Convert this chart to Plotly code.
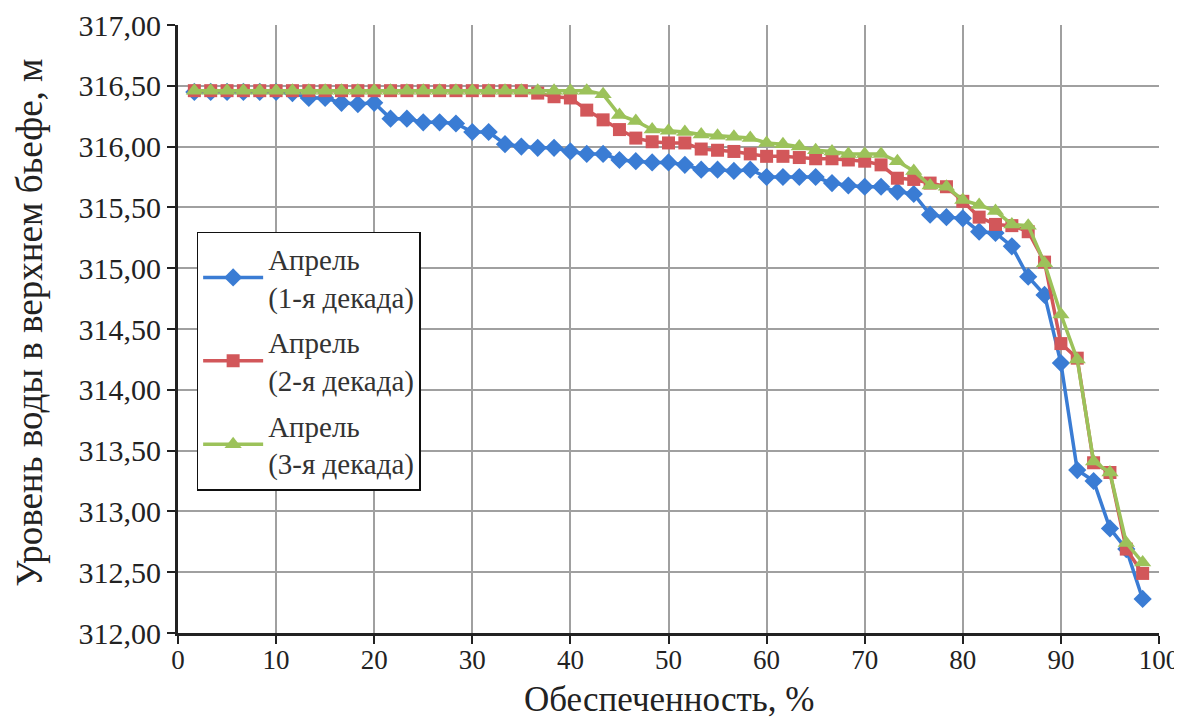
import plotly.graph_objects as go

# Provision (%) – Weibull plotting positions m/(n+1), n = 59
n_points = 59
provision = [round(m * 100 / (n_points + 1), 3) for m in range(1, n_points + 1)]

april_1 = [316.45, 316.45, 316.45, 316.45, 316.45, 316.45, 316.44, 316.40, 316.40, 316.36,
           316.35, 316.36, 316.23, 316.23, 316.20, 316.20, 316.19, 316.12, 316.12, 316.02,
           316.00, 315.99, 315.99, 315.96, 315.94, 315.94, 315.89, 315.88, 315.87, 315.87,
           315.85, 315.81, 315.81, 315.80, 315.81, 315.75, 315.75, 315.75, 315.75, 315.70,
           315.68, 315.67, 315.67, 315.63, 315.61, 315.44, 315.42, 315.41, 315.30, 315.29,
           315.18, 314.93, 314.78, 314.22, 313.34, 313.25, 312.86, 312.69, 312.28]

april_2 = [316.46, 316.46, 316.46, 316.46, 316.46, 316.46, 316.46, 316.46, 316.46, 316.46,
           316.46, 316.46, 316.46, 316.46, 316.46, 316.46, 316.46, 316.46, 316.46, 316.46,
           316.46, 316.44, 316.41, 316.40, 316.30, 316.22, 316.14, 316.07, 316.04, 316.03,
           316.03, 315.98, 315.97, 315.96, 315.94, 315.92, 315.92, 315.91, 315.90, 315.90,
           315.89, 315.88, 315.85, 315.74, 315.73, 315.70, 315.67, 315.55, 315.42, 315.36,
           315.35, 315.30, 315.05, 314.38, 314.26, 313.40, 313.32, 312.69, 312.49]

april_3 = [316.46, 316.46, 316.46, 316.46, 316.46, 316.46, 316.46, 316.46, 316.46, 316.46,
           316.46, 316.46, 316.46, 316.46, 316.46, 316.46, 316.46, 316.46, 316.46, 316.46,
           316.46, 316.46, 316.46, 316.46, 316.46, 316.43, 316.26, 316.21, 316.14, 316.13,
           316.12, 316.10, 316.09, 316.08, 316.07, 316.03, 316.02, 316.00, 315.97, 315.96,
           315.94, 315.94, 315.94, 315.88, 315.80, 315.68, 315.67, 315.56, 315.52, 315.47,
           315.36, 315.35, 315.04, 314.62, 314.25, 313.41, 313.32, 312.74, 312.58]

series_names = ["Апрель<br>(1-я декада)", "Апрель<br>(2-я декада)", "Апрель<br>(3-я декада)"]
colors = ["#3A7CD4", "#D2575A", "#9CC25A"]
symbols = ["diamond", "square", "triangle-up"]
sizes = [14, 13, 15]

x_ticks = list(range(0, 101, 10))
y_ticks = [312.0 + 0.5 * i for i in range(11)]

x_title = "Обеспеченность, %"
y_title = "Уровень воды в верхнем бьефе, м"

fig = go.Figure()
for i, ys in enumerate([april_1, april_2, april_3]):
    fig.add_trace(go.Scatter(
        x=provision, y=ys, mode="lines+markers", name=series_names[i],
        legendgroup=f"g{i}",
        line=dict(color=colors[i], width=3.5),
        marker=dict(symbol=symbols[i], size=sizes[i], color=colors[i],
                    line=dict(width=0)),
    ))

font_family = "Times New Roman, Liberation Serif, serif"
text_color = "#222222"
fig.update_layout(
    width=1174, height=710,
    margin=dict(l=170, r=23, t=17, b=85),
    paper_bgcolor="white", plot_bgcolor="white",
    separators=", ",
    font=dict(family=font_family, color=text_color, size=24),
    showlegend=True,
    legend=dict(
        x=0.019, y=0.66, xanchor="left", yanchor="top",
        bgcolor="white", bordercolor="#111111", borderwidth=1.5,
        font=dict(family=font_family, size=29, color="#333333"),
        tracegroupgap=5, itemwidth=60,
    ),
    xaxis=dict(
        range=[0, 100], tickvals=x_ticks, ticktext=[str(v) for v in x_ticks],
        showgrid=True, gridcolor="#A0A0A0", gridwidth=1.6,
        showline=True, linecolor=text_color, linewidth=3,
        ticks="outside", ticklen=8, tickwidth=2, tickcolor=text_color,
        tickfont=dict(family=font_family, size=27, color=text_color),
        ticklabelstandoff=-7,
        zeroline=False, automargin=False,
    ),
    yaxis=dict(
        range=[312, 317], tickvals=y_ticks, tickformat=".2f",
        showgrid=True, gridcolor="#A0A0A0", gridwidth=1.6,
        showline=True, linecolor=text_color, linewidth=3,
        ticks="outside", ticklen=8, tickwidth=2, tickcolor=text_color,
        tickfont=dict(family=font_family, size=30, color=text_color),
        zeroline=False, automargin=False,
    ),
    annotations=[
        dict(text=x_title, xref="paper", yref="paper", x=0.5, y=-0.11,
             xanchor="center", yanchor="middle", showarrow=False,
             font=dict(family=font_family, size=35, color=text_color)),
        dict(text=y_title, xref="paper", yref="paper", x=-0.151, y=0.51,
             xanchor="center", yanchor="middle", textangle=-90, showarrow=False,
             font=dict(family=font_family, size=37, color=text_color)),
    ],
)

fig.write_html("out.html")
